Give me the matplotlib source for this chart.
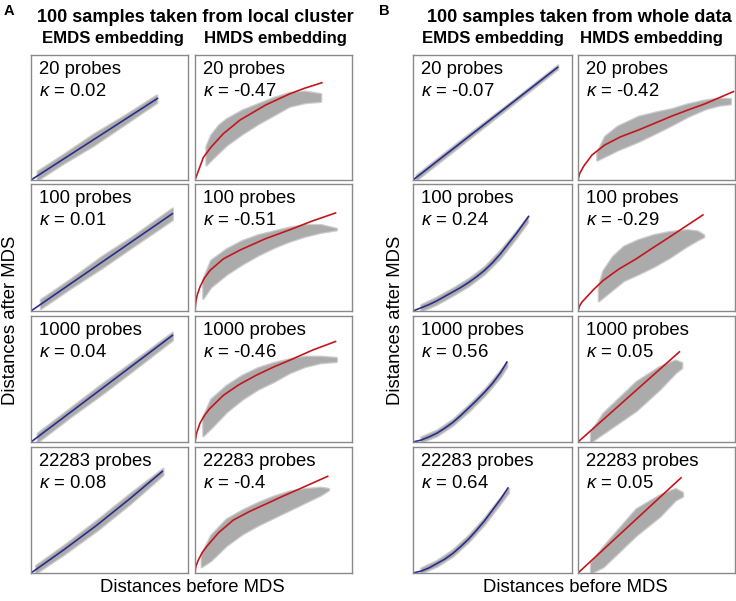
import matplotlib

matplotlib.use("Agg")
import matplotlib.pyplot as plt

plt.rcParams["font.family"] = ["Liberation Sans", "DejaVu Sans"]
plt.rcParams["mathtext.fontset"] = "custom"
plt.rcParams["mathtext.it"] = "Liberation Sans:italic"
plt.rcParams["mathtext.rm"] = "Liberation Sans"

# values, in panel fractions (0..1)
probes = ["20", "100", "1000", "22283"]
kappa_a_emds = ["0.02", "0.01", "0.04", "0.08"]
kappa_a_hmds = ["-0.47", "-0.51", "-0.46", "-0.4"]
kappa_b_emds = ["-0.07", "0.24", "0.56", "0.64"]
kappa_b_hmds = ["-0.42", "-0.29", "0.05", "0.05"]

# fitted curves: (x, y) per row
curve_a_emds = [
    ([0, 0.81], [0, 0.656]),
    ([0, 0.905], [0, 0.77]),
    ([0, 0.905], [0, 0.85]),
    ([0, 0.21, 0.42, 0.63, 0.84], [0, 0.185, 0.38, 0.59, 0.81]),
]
curve_a_hmds = [
    ([0, 0.053, 0.1, 0.18, 0.287, 0.45, 0.605, 0.7, 0.813],
     [0, 0.18, 0.26, 0.37, 0.48, 0.60, 0.69, 0.735, 0.78]),
    ([0, 0.005, 0.015, 0.032, 0.06, 0.096, 0.18, 0.287, 0.45, 0.605, 0.75, 0.9],
     [0, 0.07, 0.13, 0.19, 0.26, 0.32, 0.41, 0.48, 0.57, 0.64, 0.71, 0.774]),
    ([0, 0.01, 0.032, 0.06, 0.09, 0.18, 0.28, 0.39, 0.5, 0.605, 0.75, 0.90],
     [0, 0.07, 0.15, 0.21, 0.26, 0.37, 0.455, 0.53, 0.595, 0.65, 0.73, 0.80]),
    ([0, 0.005, 0.02, 0.045, 0.074, 0.15, 0.244, 0.35, 0.456, 0.56, 0.67, 0.76, 0.85],
     [0, 0.05, 0.10, 0.16, 0.21, 0.32, 0.42, 0.49, 0.55, 0.61, 0.67, 0.72, 0.77]),
]
curve_b_emds = [
    ([0, 0.914], [0, 0.906]),
    ([0, 0.05, 0.1, 0.15, 0.2, 0.25, 0.3, 0.35, 0.4, 0.45, 0.5, 0.55, 0.6, 0.65, 0.73],
     [0, 0.025, 0.05, 0.08, 0.115, 0.15, 0.185, 0.225, 0.27, 0.32, 0.38, 0.45, 0.53, 0.61, 0.75]),
    ([0, 0.05, 0.1, 0.15, 0.2, 0.25, 0.3, 0.35, 0.4, 0.45, 0.5, 0.55, 0.593],
     [0, 0.015, 0.04, 0.07, 0.11, 0.155, 0.21, 0.27, 0.33, 0.395, 0.465, 0.55, 0.64]),
    ([0, 0.05, 0.1, 0.15, 0.2, 0.25, 0.3, 0.35, 0.4, 0.45, 0.5, 0.55, 0.6],
     [0, 0.015, 0.04, 0.075, 0.11, 0.155, 0.21, 0.27, 0.34, 0.415, 0.50, 0.585, 0.68]),
]
curve_b_hmds = [
    ([0, 0.01, 0.036, 0.089, 0.17, 0.27, 0.385, 0.5, 0.595, 0.7, 0.81, 0.995],
     [0, 0.05, 0.11, 0.20, 0.28, 0.345, 0.40, 0.46, 0.51, 0.56, 0.61, 0.71]),
    ([0, 0.01, 0.025, 0.055, 0.1, 0.16, 0.26, 0.37, 0.48, 0.58, 0.69, 0.80],
     [0, 0.04, 0.07, 0.11, 0.17, 0.24, 0.33, 0.41, 0.50, 0.58, 0.67, 0.76]),
    ([0, 0.65], [0, 0.72]),
    ([0, 0.66], [0, 0.76]),
]

# point clouds: (x, lower edge, upper edge) per row
band_a_emds = [
    ([0.04, 0.2, 0.4, 0.6, 0.8], [0.0, 0.13, 0.28, 0.45, 0.62], [0.07, 0.2, 0.37, 0.52, 0.68]),
    ([0.06, 0.25, 0.45, 0.65, 0.9], [0.02, 0.18, 0.34, 0.51, 0.72], [0.09, 0.25, 0.43, 0.59, 0.81]),
    ([0.04, 0.25, 0.45, 0.65, 0.9], [0.0, 0.2, 0.38, 0.57, 0.81], [0.07, 0.27, 0.46, 0.64, 0.87]),
    ([0.03, 0.21, 0.42, 0.63, 0.84], [0.0, 0.15, 0.34, 0.55, 0.78], [0.06, 0.22, 0.42, 0.63, 0.83]),
]
band_a_hmds = [
    ([0.07, 0.1, 0.15, 0.2, 0.3, 0.4, 0.5, 0.6, 0.7, 0.8],
     [0.12, 0.16, 0.22, 0.28, 0.37, 0.45, 0.52, 0.59, 0.62, 0.63],
     [0.27, 0.36, 0.44, 0.49, 0.56, 0.61, 0.66, 0.70, 0.71, 0.69]),
    ([0.05, 0.1, 0.2, 0.3, 0.4, 0.5, 0.6, 0.7, 0.8, 0.9],
     [0.10, 0.19, 0.29, 0.37, 0.44, 0.50, 0.55, 0.59, 0.62, 0.64],
     [0.25, 0.40, 0.49, 0.555, 0.60, 0.63, 0.66, 0.68, 0.68, 0.65]),
    ([0.05, 0.1, 0.2, 0.3, 0.4, 0.5, 0.6, 0.7, 0.8, 0.9],
     [0.05, 0.11, 0.24, 0.34, 0.42, 0.48, 0.55, 0.60, 0.63, 0.64],
     [0.20, 0.34, 0.45, 0.53, 0.59, 0.63, 0.66, 0.68, 0.68, 0.67]),
    ([0.04, 0.1, 0.2, 0.3, 0.4, 0.5, 0.6, 0.7, 0.8, 0.85],
     [0.05, 0.10, 0.22, 0.31, 0.38, 0.44, 0.50, 0.56, 0.62, 0.66],
     [0.15, 0.30, 0.43, 0.50, 0.56, 0.61, 0.65, 0.67, 0.68, 0.67]),
]
band_b_emds = [
    ([0.02, 0.3, 0.6, 0.91], [0.0, 0.28, 0.58, 0.89], [0.04, 0.32, 0.61, 0.92]),
    ([0.05, 0.15, 0.25, 0.35, 0.45, 0.55, 0.65, 0.72],
     [0.0, 0.055, 0.125, 0.20, 0.295, 0.42, 0.58, 0.70],
     [0.05, 0.11, 0.18, 0.255, 0.35, 0.48, 0.63, 0.74]),
    ([0.05, 0.15, 0.25, 0.35, 0.45, 0.55, 0.59],
     [0.0, 0.05, 0.135, 0.245, 0.37, 0.52, 0.60],
     [0.04, 0.095, 0.18, 0.295, 0.42, 0.57, 0.63]),
    ([0.05, 0.15, 0.25, 0.35, 0.45, 0.55, 0.60],
     [0.0, 0.055, 0.135, 0.25, 0.39, 0.555, 0.64],
     [0.04, 0.10, 0.185, 0.30, 0.44, 0.60, 0.67]),
]
band_b_hmds = [
    ([0.12, 0.17, 0.25, 0.385, 0.5, 0.595, 0.7, 0.81, 0.9, 0.97],
     [0.16, 0.19, 0.24, 0.31, 0.38, 0.44, 0.51, 0.57, 0.60, 0.61],
     [0.22, 0.35, 0.43, 0.51, 0.545, 0.57, 0.61, 0.64, 0.655, 0.65]),
    ([0.13, 0.16, 0.22, 0.29, 0.38, 0.48, 0.58, 0.69, 0.76, 0.80],
     [0.08, 0.11, 0.17, 0.24, 0.29, 0.35, 0.42, 0.51, 0.56, 0.585],
     [0.20, 0.32, 0.43, 0.51, 0.56, 0.60, 0.625, 0.64, 0.63, 0.60]),
    ([0.08, 0.16, 0.37, 0.52, 0.62, 0.66],
     [0.0, 0.07, 0.25, 0.42, 0.55, 0.59],
     [0.08, 0.23, 0.48, 0.60, 0.65, 0.63]),
    ([0.08, 0.16, 0.37, 0.52, 0.62, 0.665],
     [0.0, 0.05, 0.30, 0.45, 0.58, 0.61],
     [0.08, 0.21, 0.51, 0.62, 0.67, 0.64]),
]

W, H = 736, 601
BLUE = "#2a2c8c"
RED = "#c4161c"
GREY = "#ababab"

col_px = {"a_emds": (31, 188), "a_hmds": (195, 352), "b_emds": (413, 572), "b_hmds": (578, 735)}
row_px = [(55, 180), (184, 311), (316, 442), (447, 573)]

fig = plt.figure(figsize=(W / 100, H / 100), dpi=100)


def panel(col, row, curve, band, kappa, color):
    x0, x1 = col_px[col]
    y0, y1 = row_px[row]
    ax = fig.add_axes([x0 / W, 1 - y1 / H, (x1 - x0) / W, (y1 - y0) / H])
    ax.set_xlim(0, 1)
    ax.set_ylim(0, 1)
    ax.set_xticks([])
    ax.set_yticks([])
    for s in ax.spines.values():
        s.set_color("#8a8a8a")
        s.set_linewidth(1.0)
    bx, lo, hi = band
    # soft edge first, then the denser core of the cloud
    ax.fill_between(bx, lo, hi, color="#c9c9c9", lw=1.8, edgecolor="#cdcdcd")
    ax.fill_between(bx, lo, hi, color=GREY, lw=0)
    cx, cy = curve
    ax.plot(cx, cy, color=color, lw=1.2, solid_capstyle="butt", solid_joinstyle="round")
    ax.text(0.05, 0.955, f"{probes[row]} probes", transform=ax.transAxes,
            fontsize=13.3, va="top", ha="left")
    ax.text(0.05, 0.78, f"$\\kappa$ = {kappa}", transform=ax.transAxes,
            fontsize=13.3, va="top", ha="left")


for r in range(4):
    panel("a_emds", r, curve_a_emds[r], band_a_emds[r], kappa_a_emds[r], BLUE)
    panel("a_hmds", r, curve_a_hmds[r], band_a_hmds[r], kappa_a_hmds[r], RED)
    panel("b_emds", r, curve_b_emds[r], band_b_emds[r], kappa_b_emds[r], BLUE)
    panel("b_hmds", r, curve_b_hmds[r], band_b_hmds[r], kappa_b_hmds[r], RED)

# headers and labels
fig.text(9 / W, 1 - 11 / H, "A", fontsize=10.5, weight="bold", ha="center", va="center")
fig.text(384 / W, 1 - 11 / H, "B", fontsize=10.5, weight="bold", ha="center", va="center")
fig.text(195 / W, 1 - 17 / H, "100 samples taken from local cluster", fontsize=13.1,
         weight="bold", ha="center", va="center")
fig.text(579 / W, 1 - 17 / H, "100 samples taken from whole data", fontsize=13.1,
         weight="bold", ha="center", va="center")
for name, cx in [("EMDS embedding", 113), ("HMDS embedding", 275),
                 ("EMDS embedding", 493), ("HMDS embedding", 651)]:
    fig.text(cx / W, 1 - 39 / H, name, fontsize=12.1, weight="bold", ha="center", va="center")

fig.text(11 / W, 1 - 320 / H, "Distances after MDS", fontsize=13.3, rotation=90,
         ha="center", va="center")
fig.text(395 / W, 1 - 320 / H, "Distances after MDS", fontsize=13.3, rotation=90,
         ha="center", va="center")
fig.text(192 / W, 1 - 588 / H, "Distances before MDS", fontsize=13.3, ha="center", va="center")
fig.text(575 / W, 1 - 588 / H, "Distances before MDS", fontsize=13.3, ha="center", va="center")

fig.savefig("out.png", dpi=100)
